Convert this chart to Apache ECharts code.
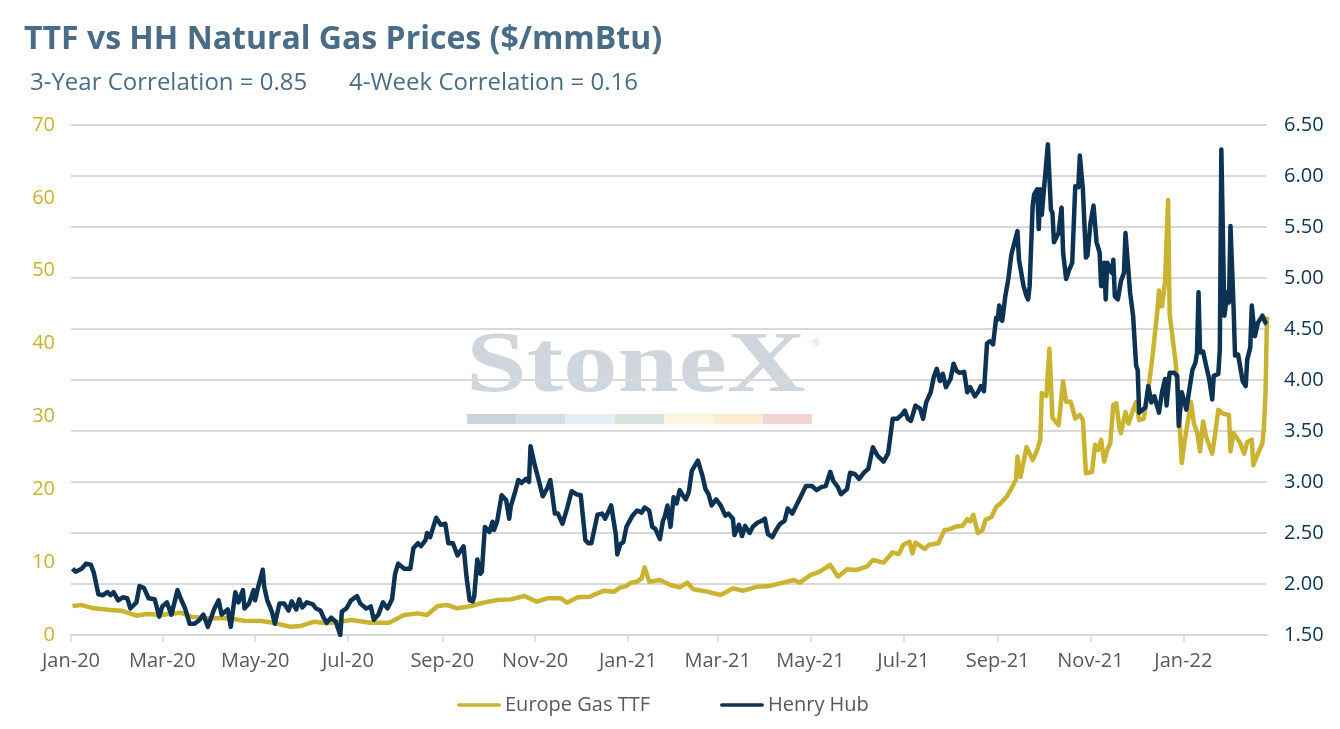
<!DOCTYPE html>
<html>
<head>
<meta charset="utf-8">
<script src="https://cdn.jsdelivr.net/npm/echarts@6/dist/echarts.min.js"></script>
<style>
html,body{margin:0;padding:0;background:#fff;}
#chart{width:1340px;height:729px;}
</style>
</head>
<body>
<div id="chart"></div>
<script>
// ---- Data ----
var titleText = 'TTF vs HH Natural Gas Prices ($/mmBtu)';
var subtitle1 = '3-Year Correlation = 0.85';
var subtitle2 = '4-Week Correlation = 0.16';
var seriesNames = ['Europe Gas TTF', 'Henry Hub'];

var xTickDates = ['2020-01-01','2020-03-01','2020-05-01','2020-07-01','2020-09-01','2020-11-01','2021-01-01','2021-03-01','2021-05-01','2021-07-01','2021-09-01','2021-11-01','2022-01-01'];
var xTickLabels = ['Jan-20','Mar-20','May-20','Jul-20','Sep-20','Nov-20','Jan-21','Mar-21','May-21','Jul-21','Sep-21','Nov-21','Jan-22'];
var xMinDate = '2020-01-01';
var xMaxDate = '2022-02-25';

var hhDates = ['2020-01-02','2020-01-04','2020-01-08','2020-01-11','2020-01-14','2020-01-16','2020-01-19','2020-01-22','2020-01-25','2020-01-27','2020-01-29','2020-02-01','2020-02-04','2020-02-07','2020-02-09','2020-02-13','2020-02-15','2020-02-18','2020-02-21','2020-02-25','2020-02-28','2020-03-01','2020-03-04','2020-03-07','2020-03-11','2020-03-13','2020-03-16','2020-03-19','2020-03-22','2020-03-25','2020-03-28','2020-03-31','2020-04-04','2020-04-07','2020-04-09','2020-04-13','2020-04-15','2020-04-18','2020-04-20','2020-04-23','2020-04-24','2020-04-27','2020-04-30','2020-05-01','2020-05-03','2020-05-06','2020-05-07','2020-05-09','2020-05-12','2020-05-14','2020-05-17','2020-05-20','2020-05-23','2020-05-25','2020-05-28','2020-05-30','2020-06-01','2020-06-04','2020-06-08','2020-06-10','2020-06-13','2020-06-15','2020-06-17','2020-06-20','2020-06-23','2020-06-26','2020-06-27','2020-06-30','2020-07-03','2020-07-07','2020-07-09','2020-07-13','2020-07-16','2020-07-18','2020-07-21','2020-07-24','2020-07-27','2020-07-30','2020-08-01','2020-08-03','2020-08-07','2020-08-11','2020-08-13','2020-08-16','2020-08-18','2020-08-21','2020-08-22','2020-08-24','2020-08-28','2020-08-31','2020-09-03','2020-09-05','2020-09-08','2020-09-11','2020-09-15','2020-09-17','2020-09-19','2020-09-21','2020-09-22','2020-09-24','2020-09-26','2020-09-27','2020-09-29','2020-10-02','2020-10-04','2020-10-05','2020-10-07','2020-10-10','2020-10-13','2020-10-15','2020-10-16','2020-10-19','2020-10-21','2020-10-23','2020-10-26','2020-10-28','2020-10-29','2020-11-01','2020-11-03','2020-11-06','2020-11-09','2020-11-11','2020-11-14','2020-11-16','2020-11-19','2020-11-22','2020-11-25','2020-11-28','2020-12-01','2020-12-04','2020-12-06','2020-12-08','2020-12-12','2020-12-15','2020-12-17','2020-12-21','2020-12-22','2020-12-24','2020-12-25','2020-12-27','2020-12-29','2020-12-31','2021-01-04','2021-01-07','2021-01-10','2021-01-12','2021-01-15','2021-01-17','2021-01-19','2021-01-22','2021-01-24','2021-01-25','2021-01-27','2021-01-29','2021-01-31','2021-02-02','2021-02-04','2021-02-06','2021-02-08','2021-02-10','2021-02-12','2021-02-14','2021-02-16','2021-02-19','2021-02-21','2021-02-23','2021-02-25','2021-02-28','2021-03-03','2021-03-06','2021-03-08','2021-03-11','2021-03-12','2021-03-15','2021-03-17','2021-03-19','2021-03-22','2021-03-24','2021-03-27','2021-03-30','2021-04-01','2021-04-03','2021-04-06','2021-04-08','2021-04-11','2021-04-14','2021-04-16','2021-04-19','2021-04-22','2021-04-25','2021-04-28','2021-05-02','2021-05-05','2021-05-08','2021-05-11','2021-05-14','2021-05-16','2021-05-19','2021-05-21','2021-05-25','2021-05-27','2021-05-30','2021-06-02','2021-06-05','2021-06-08','2021-06-11','2021-06-14','2021-06-18','2021-06-21','2021-06-24','2021-06-27','2021-06-30','2021-07-02','2021-07-04','2021-07-06','2021-07-09','2021-07-12','2021-07-14','2021-07-16','2021-07-19','2021-07-21','2021-07-23','2021-07-25','2021-07-27','2021-07-29','2021-08-01','2021-08-03','2021-08-05','2021-08-07','2021-08-10','2021-08-12','2021-08-14','2021-08-17','2021-08-19','2021-08-21','2021-08-23','2021-08-25','2021-08-27','2021-08-29','2021-08-31','2021-09-01','2021-09-02','2021-09-04','2021-09-06','2021-09-08','2021-09-10','2021-09-11','2021-09-14','2021-09-15','2021-09-18','2021-09-20','2021-09-21','2021-09-22','2021-09-24','2021-09-25','2021-09-27','2021-09-28','2021-09-29','2021-09-30','2021-10-02','2021-10-04','2021-10-06','2021-10-07','2021-10-08','2021-10-11','2021-10-13','2021-10-14','2021-10-16','2021-10-18','2021-10-20','2021-10-22','2021-10-24','2021-10-25','2021-10-27','2021-10-29','2021-10-30','2021-11-01','2021-11-03','2021-11-05','2021-11-07','2021-11-08','2021-11-10','2021-11-11','2021-11-12','2021-11-15','2021-11-16','2021-11-17','2021-11-19','2021-11-21','2021-11-23','2021-11-24','2021-11-27','2021-11-29','2021-12-01','2021-12-02','2021-12-03','2021-12-07','2021-12-09','2021-12-11','2021-12-13','2021-12-16','2021-12-18','2021-12-20','2021-12-21','2021-12-23','2021-12-26','2021-12-28','2021-12-29','2021-12-31','2022-01-03','2022-01-05','2022-01-07','2022-01-09','2022-01-10','2022-01-11','2022-01-12','2022-01-14','2022-01-16','2022-01-18','2022-01-20','2022-01-21','2022-01-24','2022-01-25','2022-01-26','2022-01-28','2022-01-30','2022-01-31','2022-02-01','2022-02-03','2022-02-04','2022-02-06','2022-02-09','2022-02-11','2022-02-12','2022-02-14','2022-02-15','2022-02-17','2022-02-19','2022-02-22','2022-02-24','2022-02-25'];
var hhValues = [2.15,2.12,2.15,2.20,2.19,2.11,1.90,1.89,1.92,1.89,1.92,1.84,1.87,1.86,1.76,1.82,1.98,1.96,1.86,1.85,1.68,1.78,1.82,1.70,1.94,1.86,1.76,1.61,1.61,1.64,1.70,1.58,1.75,1.84,1.70,1.75,1.58,1.92,1.82,1.94,1.76,1.81,1.94,1.84,1.97,2.14,1.97,1.84,1.73,1.61,1.81,1.81,1.74,1.83,1.75,1.85,1.77,1.82,1.80,1.76,1.74,1.67,1.62,1.67,1.63,1.50,1.73,1.76,1.84,1.88,1.81,1.76,1.78,1.65,1.70,1.82,1.76,1.85,2.10,2.20,2.15,2.15,2.35,2.40,2.37,2.43,2.50,2.46,2.65,2.58,2.59,2.40,2.40,2.28,2.37,2.06,1.84,1.83,1.88,2.24,2.10,2.12,2.56,2.51,2.61,2.53,2.61,2.87,2.82,2.64,2.76,2.91,3.02,2.99,3.03,3.00,3.35,3.15,3.04,2.86,2.94,3.02,2.69,2.69,2.59,2.74,2.91,2.88,2.87,2.43,2.40,2.40,2.68,2.69,2.64,2.77,2.78,2.49,2.29,2.39,2.41,2.56,2.67,2.72,2.70,2.75,2.72,2.56,2.54,2.44,2.62,2.65,2.77,2.56,2.85,2.79,2.92,2.87,2.83,2.90,3.11,3.16,3.21,3.06,2.93,2.88,2.77,2.83,2.77,2.67,2.69,2.64,2.48,2.58,2.47,2.57,2.50,2.56,2.60,2.62,2.64,2.49,2.46,2.52,2.59,2.62,2.74,2.69,2.78,2.87,2.96,2.96,2.92,2.95,2.96,3.10,3.01,2.95,2.88,2.93,3.09,3.08,3.03,3.09,3.13,3.34,3.26,3.20,3.28,3.62,3.62,3.66,3.70,3.62,3.60,3.75,3.72,3.62,3.78,3.88,4.03,4.11,3.99,4.06,3.93,4.01,4.16,4.09,4.07,4.08,3.88,3.93,3.84,3.88,3.94,3.89,4.36,4.38,4.35,4.61,4.59,4.73,4.58,4.82,4.99,5.23,5.23,5.46,5.18,4.92,4.82,4.79,4.92,5.71,5.82,5.87,5.48,5.87,5.62,5.97,6.31,5.67,5.64,5.35,5.44,5.69,5.25,4.99,5.08,5.15,5.90,5.89,6.20,5.87,5.20,5.22,5.54,5.71,5.35,5.25,4.92,5.15,4.79,5.15,5.05,5.18,4.82,4.79,4.97,5.05,5.44,4.86,4.63,4.14,4.10,3.68,3.73,3.94,3.78,3.84,3.68,3.88,4.01,3.75,4.07,4.07,4.04,3.55,3.88,3.71,3.91,4.10,4.17,4.27,4.86,4.27,4.28,4.14,4.01,3.81,4.04,4.06,4.30,6.26,4.63,4.86,4.76,5.51,4.73,4.24,4.25,3.99,3.94,4.20,4.32,4.73,4.43,4.56,4.63,4.56,4.55];

var ttfDates = ['2020-01-02','2020-01-08','2020-01-16','2020-01-27','2020-02-03','2020-02-13','2020-02-20','2020-02-29','2020-03-13','2020-03-20','2020-03-31','2020-04-13','2020-04-24','2020-05-05','2020-05-13','2020-05-24','2020-05-31','2020-06-09','2020-06-17','2020-06-26','2020-07-03','2020-07-16','2020-07-28','2020-08-07','2020-08-16','2020-08-22','2020-08-29','2020-09-04','2020-09-11','2020-09-20','2020-09-28','2020-10-07','2020-10-16','2020-10-25','2020-11-02','2020-11-09','2020-11-18','2020-11-22','2020-11-29','2020-12-07','2020-12-16','2020-12-23','2020-12-27','2020-12-31','2021-01-03','2021-01-07','2021-01-10','2021-01-12','2021-01-15','2021-01-22','2021-01-29','2021-02-04','2021-02-09','2021-02-13','2021-02-22','2021-03-03','2021-03-11','2021-03-18','2021-03-27','2021-04-04','2021-04-13','2021-04-20','2021-04-24','2021-05-01','2021-05-07','2021-05-14','2021-05-19','2021-05-25','2021-05-31','2021-06-07','2021-06-11','2021-06-18','2021-06-24','2021-06-28','2021-07-01','2021-07-05','2021-07-07','2021-07-09','2021-07-13','2021-07-15','2021-07-18','2021-07-24','2021-07-28','2021-07-31','2021-08-05','2021-08-09','2021-08-12','2021-08-14','2021-08-16','2021-08-19','2021-08-22','2021-08-24','2021-08-28','2021-08-31','2021-09-03','2021-09-07','2021-09-10','2021-09-13','2021-09-14','2021-09-16','2021-09-20','2021-09-24','2021-09-27','2021-09-29','2021-09-30','2021-10-03','2021-10-05','2021-10-07','2021-10-11','2021-10-14','2021-10-16','2021-10-19','2021-10-22','2021-10-25','2021-10-27','2021-10-29','2021-11-02','2021-11-04','2021-11-06','2021-11-08','2021-11-10','2021-11-12','2021-11-14','2021-11-16','2021-11-18','2021-11-20','2021-11-21','2021-11-24','2021-11-26','2021-11-29','2021-12-01','2021-12-03','2021-12-06','2021-12-09','2021-12-12','2021-12-15','2021-12-16','2021-12-18','2021-12-20','2021-12-22','2021-12-23','2021-12-27','2021-12-29','2021-12-31','2022-01-02','2022-01-05','2022-01-06','2022-01-08','2022-01-10','2022-01-12','2022-01-14','2022-01-16','2022-01-20','2022-01-22','2022-01-24','2022-01-27','2022-01-31','2022-02-01','2022-02-03','2022-02-07','2022-02-10','2022-02-12','2022-02-15','2022-02-16','2022-02-19','2022-02-22','2022-02-23','2022-02-24','2022-02-25'];
var ttfValues = [3.98,4.10,3.66,3.43,3.34,2.65,2.88,2.74,3.06,2.52,2.29,2.29,1.97,1.92,1.69,1.14,1.24,1.83,1.60,1.83,2.06,1.69,1.69,2.74,2.97,2.74,3.98,4.12,3.66,3.98,4.44,4.80,4.89,5.35,4.57,5.03,5.03,4.44,5.17,5.26,6.08,5.95,6.54,6.72,7.18,7.32,7.78,9.29,7.32,7.55,6.86,6.54,7.18,6.27,5.95,5.49,6.40,6.08,6.63,6.72,7.18,7.55,7.18,8.23,8.69,9.61,8.01,9.01,8.92,9.38,10.29,9.93,11.35,11.10,12.40,12.80,11.20,12.70,12.10,11.80,12.40,12.60,14.40,14.50,14.90,15.00,15.90,15.60,16.50,14.00,14.40,15.80,16.20,17.60,18.10,19.00,20.10,21.30,24.50,21.70,25.80,24.00,25.40,26.80,33.20,32.80,39.30,29.80,28.80,34.80,32.00,32.00,29.70,30.20,29.50,22.20,22.40,26.10,25.40,26.80,23.80,25.40,26.30,31.60,31.80,28.40,27.70,30.60,29.00,30.90,32.00,29.50,29.70,33.60,38.70,44.60,47.30,45.10,48.50,59.70,44.10,37.30,31.30,23.60,26.80,30.60,32.00,29.00,27.90,25.20,29.30,27.20,24.90,27.70,30.90,30.40,30.20,25.20,27.70,26.50,24.90,26.50,26.80,23.30,24.90,26.30,28.60,33.00,43.70];

var leftTicks = {min: 0, max: 70, interval: 10};
var rightTicks = {min: 1.5, max: 6.5, interval: 0.5};

// ---- Styles ----
var C_TITLE = '#4a6d87';
var C_TTF = '#c9b330';
var C_HH = '#0c3354';
var C_GRID = '#d9d9d9';
var C_TEXT = '#595959';
var FONT = '"Open Sans", "Noto Sans", sans-serif';

function ts(s){ return new Date(s + 'T00:00:00').getTime(); }
var tickTimes = xTickDates.map(ts);
function zip(d, v){ return d.map(function(s, i){ return [ts(s), v[i]]; }); }

var chart = echarts.init(document.getElementById('chart'), null, {renderer: 'canvas'});

var barColors = ['#ccd3db','#d5dfe8','#e3eef5','#d5e3db','#fbf6dd','#fdecd1','#f2d4d6'];
var wm = [{
  type: 'text', left: 466, top: 326, z: -10, silent: true,
  scaleX: 1.27,
  style: {text: 'StoneX', fontSize: 86, fontWeight: 'bold', fontFamily: '"Liberation Serif", "DejaVu Serif", serif', fill: '#cfd6dd'}
},{
  type: 'text', left: 812, top: 339, z: -10, silent: true,
  style: {text: '\u00AE', fontSize: 10, fill: '#cfd6dd'}
}];
barColors.forEach(function(c, i){
  wm.push({type: 'rect', z: -10, silent: true, shape: {x: 467 + i * 49.3, y: 414, width: 49.3, height: 10}, style: {fill: c}});
});

var legendIcon = 'path://M2,0 L46,0 A2,2 0 0 1 46,4 L2,4 A2,2 0 0 1 2,0 Z';

var option = {
  animation: false,
  backgroundColor: '#ffffff',
  textStyle: {fontFamily: FONT},
  title: [
    {text: titleText, left: 19, top: 19, textStyle: {fontSize: 32, fontWeight: 'bold', color: C_TITLE, fontFamily: FONT}},
    {text: subtitle1, left: 25, top: 66, textStyle: {fontSize: 24, fontWeight: 'normal', color: C_TITLE, fontFamily: FONT}},
    {text: subtitle2, left: 344, top: 66, textStyle: {fontSize: 24, fontWeight: 'normal', color: C_TITLE, fontFamily: FONT}}
  ],
  graphic: wm,
  legend: {
    data: seriesNames,
    left: 452, top: 690,
    icon: legendIcon, itemWidth: 44, itemHeight: 4, itemGap: 70,
    textStyle: {fontSize: 20, color: C_TEXT, fontFamily: FONT, padding: [0, 0, 0, -1]}
  },
  grid: {left: 71, right: 73, top: 125, bottom: 94},
  xAxis: {
    type: 'value',
    min: ts(xMinDate), max: ts(xMaxDate),
    axisLine: {show: true, lineStyle: {color: C_GRID, width: 2}},
    axisTick: {show: true, customValues: tickTimes, length: 7, lineStyle: {color: C_GRID, width: 1.5}},
    axisLabel: {
      customValues: tickTimes, color: C_TEXT, fontSize: 20, margin: 16, fontFamily: FONT,
      showMinLabel: true, showMaxLabel: true,
      formatter: function(v){
        var best = 0, bd = Infinity;
        for (var i = 0; i < tickTimes.length; i++) { var d = Math.abs(tickTimes[i] - v); if (d < bd) { bd = d; best = i; } }
        return xTickLabels[best];
      }
    },
    splitLine: {show: false}
  },
  yAxis: [
    {
      type: 'value', position: 'left',
      min: leftTicks.min, max: leftTicks.max, interval: leftTicks.interval,
      axisLine: {show: false}, axisTick: {show: false}, splitLine: {show: false},
      axisLabel: {color: C_TTF, fontSize: 20, margin: 16, fontFamily: FONT}
    },
    {
      type: 'value', position: 'right',
      min: rightTicks.min, max: rightTicks.max, interval: rightTicks.interval,
      axisLine: {show: false}, axisTick: {show: false},
      splitLine: {show: true, lineStyle: {color: C_GRID, width: 2}},
      axisLabel: {color: C_HH, fontSize: 20, margin: 17, fontFamily: FONT, formatter: function(v){ return v.toFixed(2); }}
    }
  ],
  series: [
    {name: seriesNames[0], type: 'line', yAxisIndex: 0, data: zip(ttfDates, ttfValues), showSymbol: false, symbol: 'none',
     lineStyle: {color: C_TTF, width: 4.5, join: 'round'}, itemStyle: {color: C_TTF}, z: 3},
    {name: seriesNames[1], type: 'line', yAxisIndex: 1, data: zip(hhDates, hhValues), showSymbol: false, symbol: 'none',
     lineStyle: {color: C_HH, width: 4.5, join: 'round'}, itemStyle: {color: C_HH}, z: 4}
  ]
};
chart.setOption(option);
</script>
</body>
</html>
